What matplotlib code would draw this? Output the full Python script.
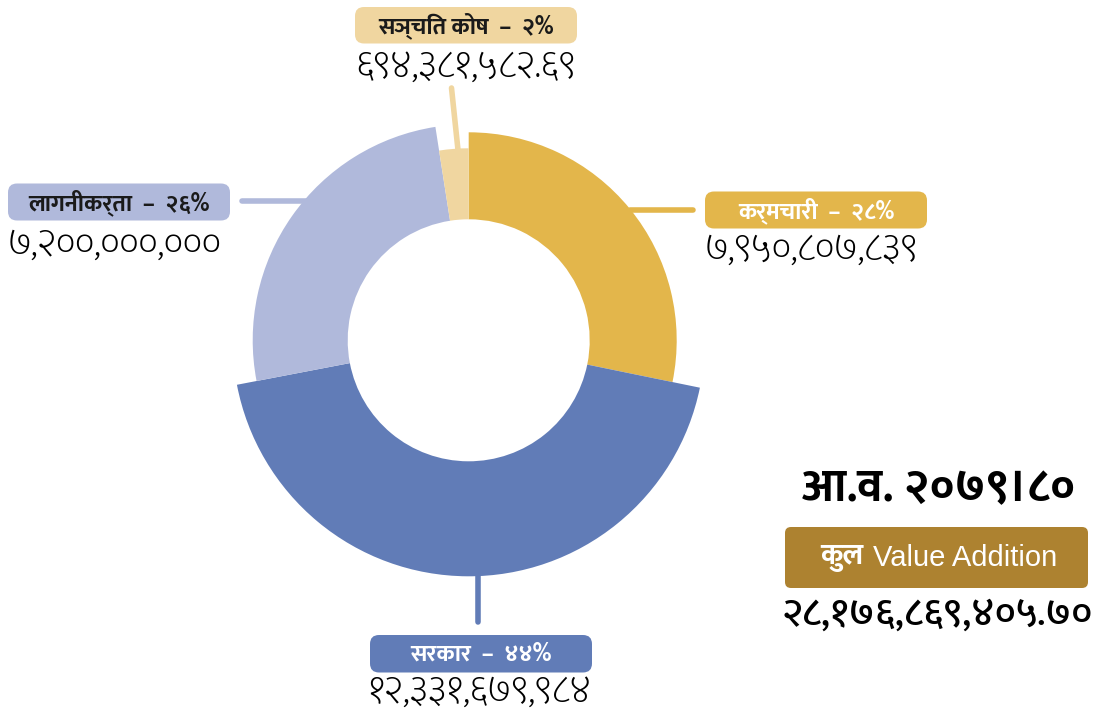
import matplotlib
matplotlib.use("Agg")
import matplotlib.pyplot as plt
from matplotlib import font_manager
from matplotlib.patches import Wedge, FancyBboxPatch

# data
labels = ["कर्मचारी", "सरकार", "लागनीकर्ता", "सञ्चित कोष"]
values = [7950807839, 12331679984, 7200000000, 694381582.69]
value_text = ["७,९५०,८०७,८३९", "१२,३३१,६७९,९८४", "७,२००,०००,०००", "६९४,३८१,५८२.६९"]
pct_text = ["२८%", "४४%", "२६%", "२%"]
colors = ["#E3B64B", "#617CB7", "#B0B9DB", "#F0D6A0"]
radii = [208, 236, 216, 192]
title = "आ.व. २०७९।८०"
total_word = "कुल"
total_label = "Value Addition"
total_text = "२८,१७६,८६९,४०५.७०"

# pick a devanagari font that is installed
names = set(f.name for f in font_manager.fontManager.ttflist)
deva = "DejaVu Sans"
for cand in ["Mukta", "Khula", "Noto Sans Devanagari"]:
    if cand in names:
        deva = cand
        break
fam = [deva, "DejaVu Sans"]
latin = ["Liberation Sans", "DejaVu Sans"]

W, H = 1099, 716
fig = plt.figure(figsize=(W / 100, H / 100), dpi=100)
ax = fig.add_axes([0, 0, 1, 1])
ax.set_xlim(0, W)
ax.set_ylim(0, H)
ax.axis("off")

cx, cy = 468.7, H - 340.3
r_in = 121

# lead lines (behind the ring)
lines = [((630, 693), (H - 210, H - 210)),
         ((478, 478), (H - 560, H - 622)),
         ((242, 310), (H - 201, H - 201)),
         ((458, 451.5), (H - 150, H - 88))]
for (xs, ys), c in zip(lines, colors):
    ax.plot(xs, ys, color=c, lw=4, solid_capstyle="round", zorder=1)

total = sum(values)
start = 0.0
for v, r, c in zip(values, radii, colors):
    span = v / total * 360
    ax.add_patch(Wedge((cx, cy), r, 90 - start - span, 90 - start,
                       width=r - r_in, facecolor=c, edgecolor="none", zorder=2))
    start += span

# label boxes: x0, y0(top, image coords), width, height, text colour
boxes = [(705, 191.5, 222, 37, "white"),
         (370, 635, 222, 37.5, "white"),
         (8, 183.5, 222, 37, "#1a1a1a"),
         (355, 7, 222, 36.5, "#1a1a1a")]
value_pos = [(705, 250, "left"), (367, 692, "left"), (8, 245, "left"), (466, 67, "center")]

for i, (x0, y0, bw, bh, tc) in enumerate(boxes):
    ax.add_patch(FancyBboxPatch((x0 + 9, H - y0 - bh + 9), bw - 18, bh - 18,
                                boxstyle="round,pad=9", facecolor=colors[i],
                                edgecolor="none", zorder=3))
    ax.text(x0 + bw / 2, H - y0 - bh / 2 - 1, labels[i] + "  –  " + pct_text[i],
            ha="center", va="center", fontsize=17, fontweight="bold",
            color=tc, family=fam, zorder=4)
    vx, vy, ha = value_pos[i]
    ax.text(vx, H - vy, value_text[i], ha=ha, va="center", fontsize=28,
            fontweight="light", color="black", family=fam, zorder=4)

# total block on the right
ax.text(938, H - 490, title, ha="center", va="center", fontsize=33.5,
        fontweight="bold", color="black", family=fam)
ax.add_patch(FancyBboxPatch((785 + 6, H - 588 + 6), 303 - 12, 61 - 12,
                            boxstyle="round,pad=6", facecolor="#AD8230",
                            edgecolor="none"))
ax.text(864, H - 558, total_word, ha="right", va="center", fontsize=21,
        fontweight="bold", color="white", family=fam)
ax.text(873, H - 558, total_label, ha="left", va="center", fontsize=21,
        color="white", family=latin)
ax.text(937, H - 615, total_text, ha="center", va="center", fontsize=29,
        fontweight="medium", color="black", family=fam)

fig.savefig("out.png", dpi=100)
